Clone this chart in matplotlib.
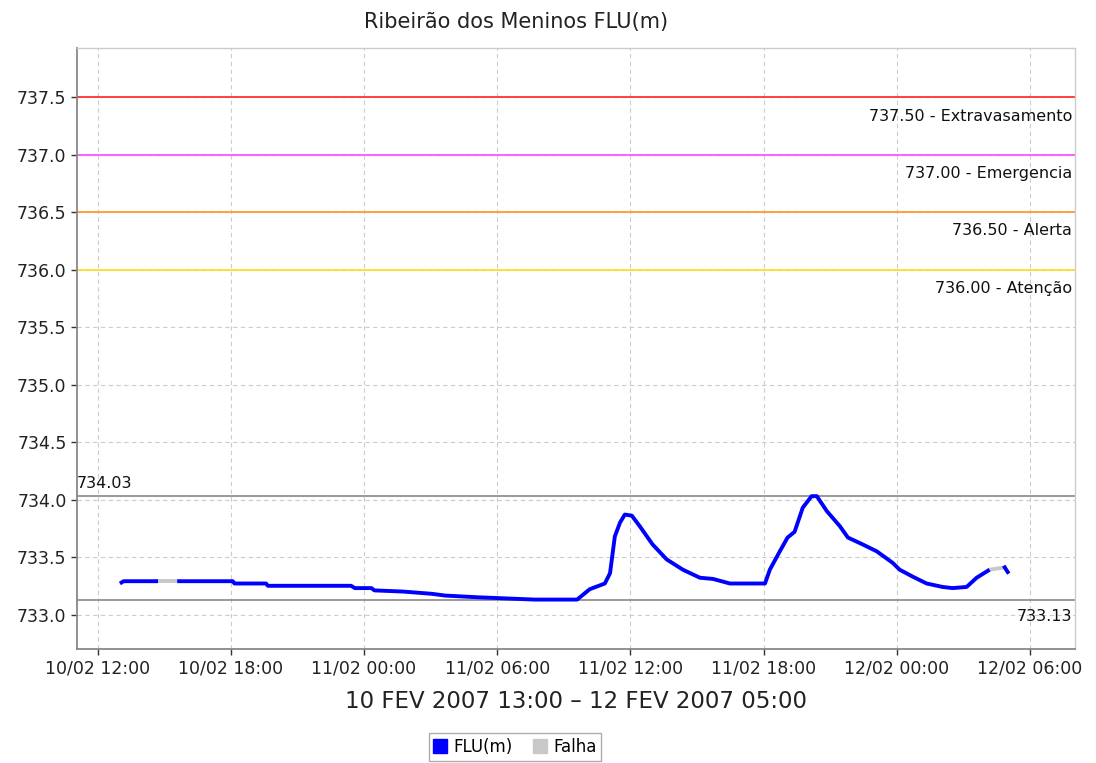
import numpy as np
import pandas as pd
import matplotlib
matplotlib.use('Agg')
import matplotlib.pyplot as plt
import matplotlib.dates as mdates
from matplotlib.lines import Line2D

# Leituras do nivel (m)
times = [
    "2007-02-10 13:00", "2007-02-10 13:10", "2007-02-10 14:43", "2007-02-10 15:35",
    "2007-02-10 18:05", "2007-02-10 18:10", "2007-02-10 19:35", "2007-02-10 19:40",
    "2007-02-10 23:25", "2007-02-10 23:35", "2007-02-11 00:20", "2007-02-11 00:28",
    "2007-02-11 01:45", "2007-02-11 03:04", "2007-02-11 03:39", "2007-02-11 05:08",
    "2007-02-11 07:42", "2007-02-11 09:36", "2007-02-11 10:10", "2007-02-11 10:51",
    "2007-02-11 11:05", "2007-02-11 11:18", "2007-02-11 11:32", "2007-02-11 11:45",
    "2007-02-11 12:04", "2007-02-11 12:25", "2007-02-11 13:00", "2007-02-11 13:38",
    "2007-02-11 14:22", "2007-02-11 15:08", "2007-02-11 15:43", "2007-02-11 16:29",
    "2007-02-11 18:04", "2007-02-11 18:17", "2007-02-11 18:44", "2007-02-11 19:05",
    "2007-02-11 19:24", "2007-02-11 19:46", "2007-02-11 20:10", "2007-02-11 20:24",
    "2007-02-11 20:51", "2007-02-11 21:26", "2007-02-11 21:48", "2007-02-11 22:28",
    "2007-02-11 23:06", "2007-02-11 23:49", "2007-02-12 00:08", "2007-02-12 00:43",
    "2007-02-12 01:21", "2007-02-12 02:04", "2007-02-12 02:31", "2007-02-12 03:09",
    "2007-02-12 03:36", "2007-02-12 04:11", "2007-02-12 04:52", "2007-02-12 05:00",
]
levels = [
    733.27, 733.29, 733.29, 733.29,
    733.29, 733.27, 733.27, 733.25,
    733.25, 733.23, 733.23, 733.21,
    733.20, 733.18, 733.165, 733.15,
    733.13, 733.13, 733.22, 733.27,
    733.36, 733.68, 733.80, 733.87,
    733.86, 733.77, 733.61, 733.48,
    733.39, 733.32, 733.31, 733.27,
    733.27, 733.39, 733.55, 733.67,
    733.72, 733.93, 734.03, 734.03,
    733.90, 733.77, 733.67, 733.61,
    733.55, 733.45, 733.39, 733.33,
    733.27, 733.24, 733.23, 733.24,
    733.32, 733.39, 733.41, 733.37,
]
# index i marks the segment from point i to point i+1 as a failure (Falha)
falha_segments = [2, 53]

thresholds = [737.50, 737.00, 736.50, 736.00]
threshold_names = ["Extravasamento", "Emergencia", "Alerta", "Atenção"]
threshold_colors = ["#ff3333", "#ff55ff", "#ff9933", "#ffdd22"]

max_level = 734.03
min_level = 733.13

t = pd.to_datetime(times)
y = np.array(levels)

fig = plt.figure(figsize=(10.96, 7.63), dpi=100)
ax = fig.add_axes([77/1096, 1 - 649/763, (1075 - 77)/1096, (649 - 48)/763])

# grid
ax.grid(True, color="#cccccc", linestyle=(0, (4, 3)), linewidth=0.8)
ax.set_axisbelow(True)

# threshold lines
for val, name, col in zip(thresholds, threshold_names, threshold_colors):
    ax.axhline(val, color=col, linewidth=1.3, zorder=2)
    ax.annotate(f"{val:.2f} - {name}", xy=(1.0, val), xycoords=("axes fraction", "data"),
                xytext=(-2, -8), textcoords="offset points", ha="right", va="top",
                fontsize=11.5, color="#111111")

# max / min lines
ax.axhline(max_level, color="#888888", linewidth=1.2, zorder=2)
ax.annotate(f"{max_level:.2f}", xy=(0.0, max_level), xycoords=("axes fraction", "data"),
            xytext=(0, 4), textcoords="offset points", ha="left", va="bottom",
            fontsize=11.5, color="#111111")
ax.axhline(min_level, color="#888888", linewidth=1.2, zorder=2)
ax.annotate(f"{min_level:.2f}", xy=(1.0, min_level), xycoords=("axes fraction", "data"),
            xytext=(-2, -7), textcoords="offset points", ha="right", va="top",
            fontsize=11.5, color="#111111")

# series, split into ok / failure runs
seg_start = 0
for i in range(len(y) - 1):
    if i in falha_segments:
        ax.plot(t[seg_start:i + 1], y[seg_start:i + 1], color="#0000ff", linewidth=2.8,
                solid_capstyle="butt", zorder=4)
        ax.plot(t[i:i + 2], y[i:i + 2], color="#c8c8c8", linewidth=2.8, zorder=3)
        seg_start = i + 1
ax.plot(t[seg_start:], y[seg_start:], color="#0000ff", linewidth=2.8, zorder=4)

ax.set_ylim(732.70, 737.93)
ax.set_yticks(np.arange(733.0, 737.51, 0.5))
ax.yaxis.set_major_formatter(matplotlib.ticker.FormatStrFormatter("%.1f"))
ax.set_xlim(pd.Timestamp("2007-02-10 11:04"), pd.Timestamp("2007-02-12 08:02"))
ax.xaxis.set_major_locator(mdates.HourLocator(byhour=[0, 6, 12, 18]))
ax.xaxis.set_major_formatter(mdates.DateFormatter("%d/%m %H:%M"))

ax.tick_params(axis="both", colors="#333333", length=4, width=1, labelcolor="#222222")
ax.tick_params(axis="y", labelsize=12.5)
ax.tick_params(axis="x", labelsize=12.5)
for s in ["left", "bottom"]:
    ax.spines[s].set_color("#888888")
    ax.spines[s].set_linewidth(1.3)
for s in ["top", "right"]:
    ax.spines[s].set_color("#cccccc")
    ax.spines[s].set_linewidth(1.0)

fig.text(516/1096, 1 - 22/763, "Ribeirão dos Meninos FLU(m)", fontsize=15, color="#222222",
         ha="center", va="center")
ax.set_xlabel("10 FEV 2007 13:00 – 12 FEV 2007 05:00", fontsize=16.5, labelpad=9,
              color="#222222")

handles = [
    Line2D([], [], marker="s", linestyle="none", markersize=10, markerfacecolor="#0000ff",
           markeredgecolor="#0000ff"),
    Line2D([], [], marker="s", linestyle="none", markersize=10, markerfacecolor="#c8c8c8",
           markeredgecolor="#c8c8c8"),
]
leg = fig.legend(handles, ["FLU(m)", "Falha"], loc="center", bbox_to_anchor=(515/1096, 1 - 747/763),
                 ncol=2, fontsize=12, frameon=True, fancybox=False, handlelength=0.8,
                 handletextpad=0.4, columnspacing=1.2, borderpad=0.3)
leg.get_frame().set_edgecolor("#999999")
leg.get_frame().set_linewidth(1.0)

fig.savefig("out.png", dpi=100)
